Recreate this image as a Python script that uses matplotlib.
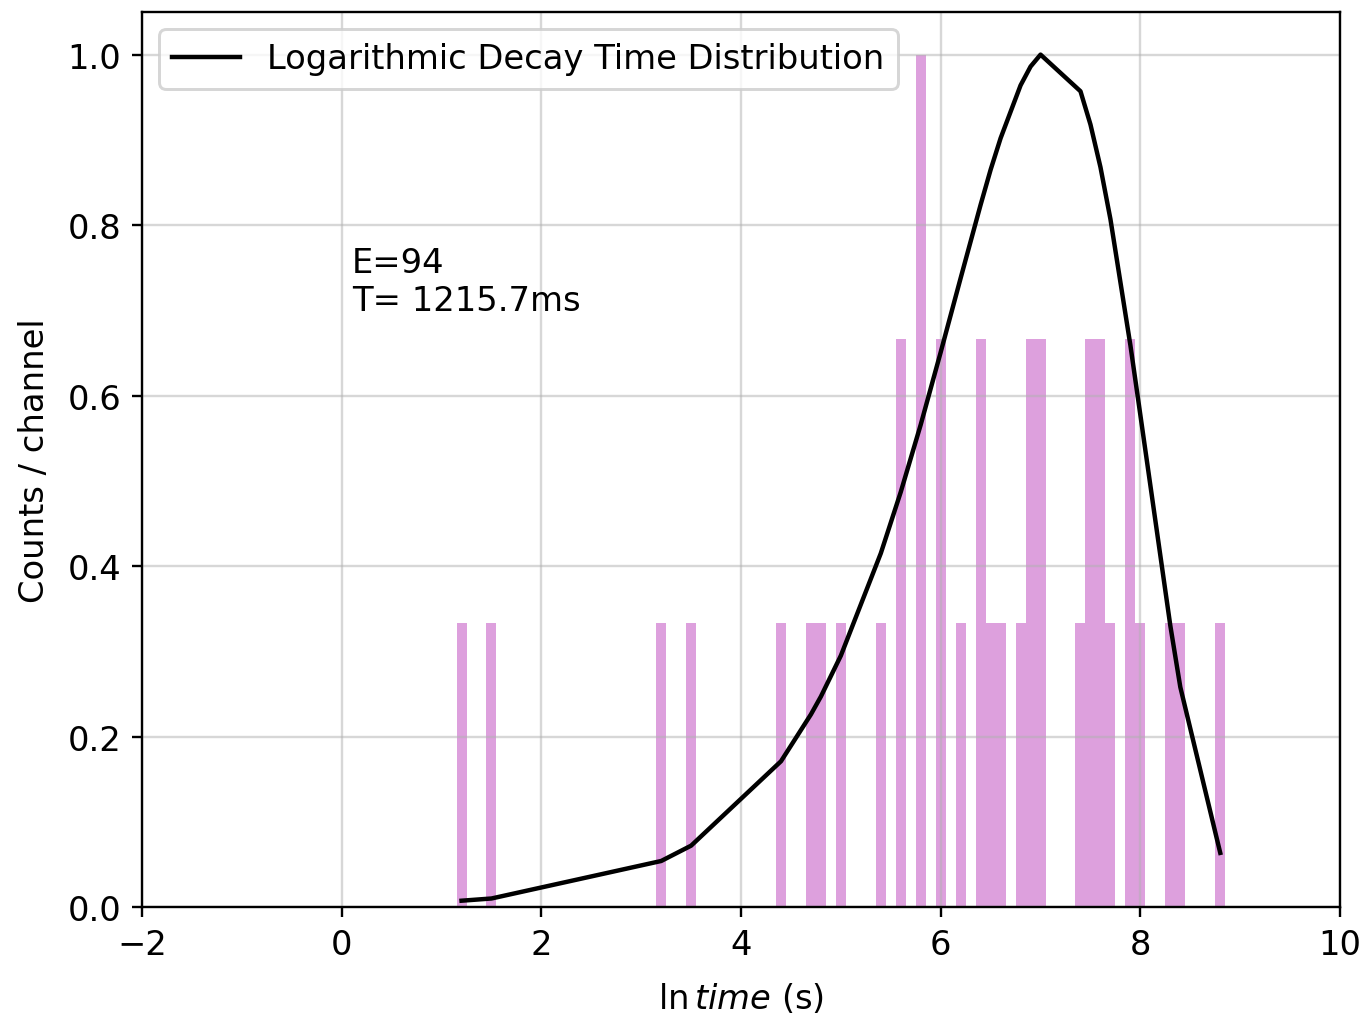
import matplotlib
matplotlib.use("Agg")
import matplotlib.pyplot as plt

# histogram channels (ln t) and normalised counts (max = 3 events)
ln_t = [1.2, 1.5, 3.2, 3.5, 4.4, 4.7, 4.8, 5.0, 5.4, 5.6, 5.8, 6.0, 6.2, 6.4,
        6.5, 6.6, 6.8, 6.9, 7.0, 7.4, 7.5, 7.6, 7.7, 7.9, 8.0, 8.3, 8.4, 8.8]
counts = [1, 1, 1, 1, 1, 1, 1, 1, 1, 2, 3, 2, 1, 2,
          1, 1, 1, 2, 2, 1, 2, 2, 1, 2, 1, 1, 1, 1]
max_count = 3

# decay time distribution curve, read at the same points
curve = [0.0074, 0.0100, 0.054, 0.072, 0.171, 0.226, 0.247, 0.295, 0.415, 0.487,
         0.566, 0.651, 0.738, 0.824, 0.865, 0.902, 0.964, 0.986, 1.000, 0.957,
         0.918, 0.868, 0.807, 0.659, 0.577, 0.330, 0.258, 0.0635]

plt.rcParams['font.size'] = 11.4

fig = plt.figure(figsize=(1366 / 213, 1015 / 213), dpi=213)
ax = fig.add_axes([0.104, 0.1054, 0.877, 0.8818])

ax.bar(ln_t, [c / max_count for c in counts], width=0.1, color='plum')
ax.plot(ln_t, curve, color='black', label='Logarithmic Decay Time Distribution')

ax.text(0.1, 0.7, "E=94\nT= 1215.7ms")

ax.set_xlim(-2, 10)
ax.set_ylim(0, 1.05)
ax.set_xlabel(r"$\ln time$ (s)", labelpad=7)
ax.set_ylabel("Counts / channel", labelpad=5.5)
ax.grid(True, alpha=0.5)
ax.legend(loc='upper left')

fig.savefig("out.png", dpi=213)
